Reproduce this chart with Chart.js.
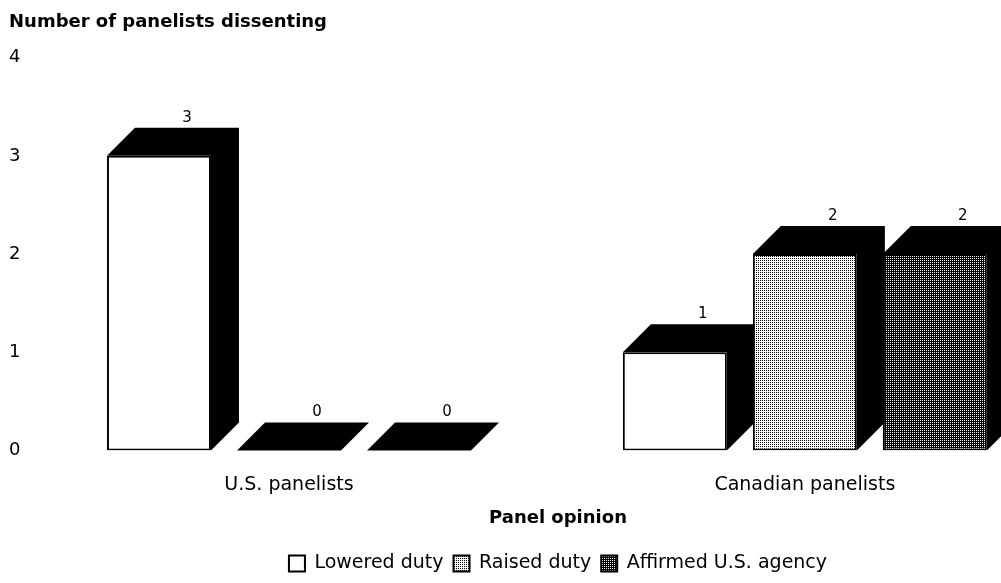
<!DOCTYPE html>
<html>
<head>
<meta charset="utf-8">
<script src="https://cdn.jsdelivr.net/npm/chart.js@4.4.1/dist/chart.umd.min.js"></script>
<style>
html, body { margin: 0; padding: 0; background: #fff; overflow: hidden; }
#wrap { width: 1200px; height: 583px; }
</style>
</head>
<body>
<div id="wrap"><canvas id="myChart"></canvas></div>
<script>
const groups = ['U.S. panelists', 'Canadian panelists'];
const lowered = [3, 1];
const raised = [0, 2];
const affirmed = [0, 2];
const seriesNames = ['Lowered duty', 'Raised duty', 'Affirmed U.S. agency'];
const yTicks = [0, 1, 2, 3, 4];

const DEPTH = 28;
const canvas = document.getElementById('myChart');
const ctx = canvas.getContext('2d');

// small dot screens like the printed halftone
function screen(bg, fg, dots, size) {
    const tile = document.createElement('canvas');
    tile.width = size;
    tile.height = size;
    const g = tile.getContext('2d');
    g.fillStyle = bg;
    g.fillRect(0, 0, size, size);
    g.fillStyle = fg;
    dots.forEach(d => g.fillRect(d[0], d[1], 1, 1));
    return ctx.createPattern(tile, 'repeat');
}

const fills = [
    '#ffffff',
    screen('#ffffff', '#000000', [[0, 0]], 2),
    screen('#000000', '#ffffff', [[0, 0]], 2)
];

function points(values) {
    return values.map((v, i) => ({ x: i, y: v }));
}

const box3d = {
    id: 'box3d',
    beforeDatasetsDraw(chart) {
        const c = chart.ctx;
        c.save();
        c.fillStyle = '#000';
        chart.data.datasets.forEach((ds, i) => {
            chart.getDatasetMeta(i).data.forEach(bar => {
                const p = bar.getProps(['x', 'y', 'base', 'width'], true);
                const l = p.x - p.width / 2;
                const r = p.x + p.width / 2;
                c.beginPath();
                c.moveTo(l, p.y);
                c.lineTo(l + DEPTH, p.y - DEPTH);
                c.lineTo(r + DEPTH, p.y - DEPTH);
                c.lineTo(r + DEPTH, p.base - DEPTH);
                c.lineTo(r, p.base);
                c.lineTo(r, p.y);
                c.closePath();
                c.fill();
            });
        });
        c.restore();
    },
    afterDatasetsDraw(chart) {
        const c = chart.ctx;
        c.save();
        c.fillStyle = '#000';
        c.font = '15px "DejaVu Sans"';
        c.textAlign = 'center';
        c.textBaseline = 'middle';
        chart.data.datasets.forEach((ds, i) => {
            chart.getDatasetMeta(i).data.forEach((bar, j) => {
                const p = bar.getProps(['x', 'y'], true);
                c.fillText(String(ds.data[j].y), p.x + DEPTH, p.y - DEPTH - 10);
            });
        });
        c.restore();
    }
};

Chart.defaults.font.family = '"DejaVu Sans", sans-serif';
Chart.defaults.font.size = 18;
Chart.defaults.color = '#000';

new Chart(ctx, {
    type: 'bar',
    data: {
        datasets: [lowered, raised, affirmed].map((vals, i) => ({
            label: seriesNames[i],
            data: points(vals),
            backgroundColor: fills[i],
            borderColor: '#000',
            borderWidth: 2,
            borderSkipped: false,
            categoryPercentage: 0.756,
            barPercentage: 0.8
        }))
    },
    plugins: [box3d],
    options: {
        responsive: true,
        maintainAspectRatio: false,
        animation: false,
        layout: { padding: { left: 9, bottom: 0 } },
        scales: {
            x: {
                type: 'linear',
                offset: false,
                min: -0.502,
                max: 1.545,
                afterBuildTicks: s => { s.ticks = groups.map((g, i) => ({ value: i })); },
                grid: { display: false, drawTicks: true, tickLength: 17 },
                border: { display: false },
                ticks: {
                    callback: v => groups[v],
                    autoSkip: false,
                    maxRotation: 0,
                    padding: 6,
                    font: { size: 19 }
                },
                title: {
                    display: true,
                    text: 'Panel opinion',
                    font: { size: 18, weight: 'bold' },
                    padding: { top: 5, bottom: 15 }
                }
            },
            y: {
                min: 0,
                max: 4,
                afterBuildTicks: s => { s.ticks = yTicks.map(v => ({ value: v })); },
                afterFit: s => { s.width = 21; },
                grid: { display: false, drawTicks: false },
                border: { display: false },
                ticks: { crossAlign: 'far', padding: 0, font: { size: 18 } }
            },
            y2: {
                position: 'right',
                display: true,
                afterFit: s => { s.width = 114; },
                grid: { display: false, drawTicks: false },
                border: { display: false },
                ticks: { display: false }
            }
        },
        plugins: {
            title: {
                display: true,
                text: 'Number of panelists dissenting',
                align: 'start',
                font: { size: 18, weight: 'bold' },
                padding: { top: 12, bottom: 24 }
            },
            legend: {
                position: 'bottom',
                fullSize: false,
                labels: { boxWidth: 16, boxHeight: 16, padding: 10, font: { size: 19 } }
            },
            tooltip: { enabled: false }
        }
    }
});
</script>
</body>
</html>
